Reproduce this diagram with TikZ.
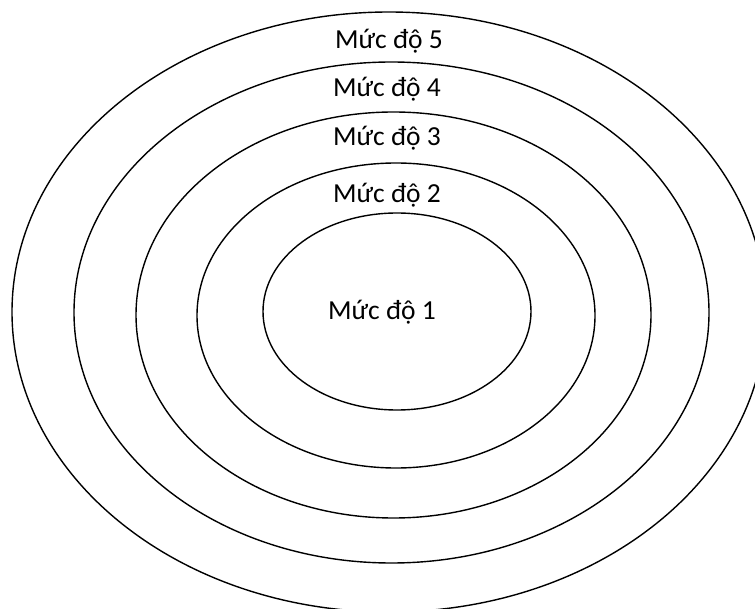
\documentclass[tikz,border=0pt]{standalone}
\usepackage{fontspec}
\setmainfont{Carlito}
\usetikzlibrary{positioning}
\begin{document}
\begin{tikzpicture}[x=1pt, y=-1pt]
	\tikzset{
		ring/.style={draw=black, line width=1.4pt},
		level/.style={font=\fontsize{27.5}{32}\selectfont, inner sep=0pt}
	}
	\useasboundingbox (0,0) rectangle (755,609);
	\clip (0,0) rectangle (755,609);
	
	% các vòng, từ trong ra ngoài
	\draw[ring] (397,311.5) ellipse [x radius=134, y radius=98.5];
	\draw[ring] (396,315.5) ellipse [x radius=199, y radius=152.5];
	\draw[ring] (393.5,315) ellipse [x radius=257.5, y radius=203];
	\draw[ring] (391.5,312.5) ellipse [x radius=317.5, y radius=250.5];
	\draw[ring] (389,312) ellipse [x radius=377, y radius=300];
	
	% nhãn
	\node[level] (muc1) at (382,312) {Mức độ 1};
	\node[level] (muc2) at (387,195) {Mức độ 2};
	\node[level] (muc3) at (387,138) {Mức độ 3};
	\node[level] (muc4) at (387,89) {Mức độ 4};
	\node[level] (muc5) at (389,41) {Mức độ 5};
\end{tikzpicture}
\end{document}
